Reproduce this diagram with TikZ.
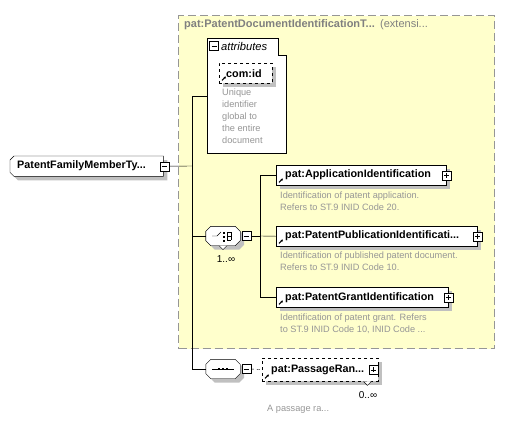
\documentclass[tikz,border=0pt]{standalone}
\usepackage{fontspec}
\setmainfont{Liberation Sans}
\usetikzlibrary{shadows, calc, positioning, arrows.meta}
\definecolor{extyellow}{RGB}{255,255,204}
\definecolor{extborder}{RGB}{150,150,150}
\definecolor{titlegray}{RGB}{128,128,128}
\definecolor{descgray}{RGB}{150,150,150}
\definecolor{shadowgray}{RGB}{192,192,192}
% outline with cut corners round a named node
\newcommand{\cutoutline}[2]{%
  ($(#1.north west)+(#2,0)$) -- ($(#1.north east)+(-#2,0)$)
  -- ($(#1.north east)+(0,#2)$) -- ($(#1.south east)+(0,-#2)$)
  -- ($(#1.south east)+(-#2,0)$) -- ($(#1.south west)+(#2,0)$)
  -- ($(#1.south west)+(0,-#2)$) -- ($(#1.north west)+(0,#2)$) -- cycle}

\begin{document}
\begin{tikzpicture}[x=1pt, y=-1pt,
    shade4/.style={drop shadow={shadow xshift=4pt, shadow yshift=-4pt,
                   fill=shadowgray, opacity=1}},
    elem/.style={draw, fill=white, anchor=north west, minimum height=20pt,
                 inner xsep=9pt, inner ysep=0pt, align=left, shade4,
                 font=\bfseries\fontsize{10.8}{12}\selectfont},
    typebox/.style={anchor=north west, minimum height=20pt, inner sep=0pt},
    compbox/.style={minimum width=34pt, minimum height=19pt, inner sep=0pt},
    descr/.style={anchor=north west, align=left, inner sep=0pt,
                  text=descgray, font=\fontsize{9.2}{12}\selectfont},
    mult/.style={inner sep=0pt, font=\fontsize{10}{11}\selectfont},
    pmbox/.style={draw, fill=white, minimum size=9pt, inner sep=0pt},
    minusbox/.style={pmbox, path picture={
        \draw ([xshift=2pt]path picture bounding box.west)
           -- ([xshift=-2pt]path picture bounding box.east);}},
    plusbox/.style={pmbox, path picture={
        \draw ([xshift=2pt]path picture bounding box.west)
           -- ([xshift=-2pt]path picture bounding box.east);
        \draw ([yshift=-2pt]path picture bounding box.north)
           -- ([yshift=2pt]path picture bounding box.south);}},
    refarrow/.style={-{Latex[length=2.2pt, width=2.6pt]}, line width=1.1pt},
]
\useasboundingbox (0,0) rectangle (505,421);

% extension area
\node[draw=extborder, fill=extyellow, line width=1.1pt,
      dash pattern=on 8pt off 4pt, anchor=north west,
      minimum width=316pt, minimum height=333pt] (ext) at (178,15) {};
\node[anchor=west, inner sep=0pt, text=titlegray,
      font=\bfseries\fontsize{11}{12}\selectfont] (ext-title) at (184,25)
  {pat:PatentDocumentIdentificationT...};
\node[anchor=west, inner sep=0pt, text=titlegray,
      font=\fontsize{11}{12}\selectfont] (ext-kind) at (380,25) {(extensi...};

% attributes
\draw[fill=white] (207,38) -- (278,38) -- (278,55) -- (286,55)
  -- (286,153) -- (207,153) -- cycle;
\coordinate (attr-in) at (207,96);
\node[minusbox] (attr-m) at (214,46) {};
\node[anchor=west, inner sep=0pt, font=\itshape\fontsize{11.2}{12}\selectfont]
  (attr-title) at (221,46) {attributes};
\node[elem, dashed, inner xsep=7pt, text width=39pt] (comid) at (219,63) {com:id};
\draw[refarrow] ($(comid.south west)+(3,-3)$) -- ++(4,-4);
\node[descr] (comid-d) at (222,89)
  {Unique\\identifier\\global to\\the entire\\document};

% complex type
\node[typebox, minimum width=153pt] (fmt) at (10,156) {};
\draw[fill=white, shade4] ($(fmt.north west)+(4,0)$) -- (fmt.north east)
  -- (fmt.south east) -- ($(fmt.south west)+(4,0)$)
  -- ($(fmt.south west)+(0,-4)$) -- ($(fmt.north west)+(0,4)$) -- cycle;
\node[anchor=west, inner sep=0pt, font=\bfseries\fontsize{10.8}{12}\selectfont]
  (fmt-label) at ([xshift=7pt]fmt.west) {PatentFamilyMemberTy...};
\node[minusbox] (fmt-m) at ([xshift=1pt]fmt.east) {};
\coordinate (fork) at (192,166);

% choice
\node[compbox] (choice) at (223,236) {};
\draw[fill=white, shade4, xshift=3pt, yshift=-3pt] \cutoutline{choice}{5};
\draw[fill=white] \cutoutline{choice}{5};
\draw[fill=white] ([xshift=-4pt]choice.south) -- ++(4,4) -- ++(4,-4);
\begin{scope}[shift={(choice)}]
  \draw (-11,0) -- (-6,0) -- (-2,-4);
  \foreach \dy in {-4,0,4}
    \fill (0,\dy) rectangle ++(1.6,1.6);
  \draw (4,-4) -- (4,4);
  \foreach \dy in {-4,0,4}
    \draw (4,\dy) -- (8,\dy);
  \draw (8,-4) -- (8,4);
\end{scope}
\node[minusbox] (choice-m) at ([xshift=6pt]choice.east) {};
\node[mult] (choice-n) at (226,259) {1..∞};
\coordinate (cfork) at (260,236);

% children of choice
\node[elem, text width=152pt] (appid) at (276,165) {pat:ApplicationIdentification};
\node[plusbox] (appid-p) at (appid.east) {};
\draw[refarrow] ($(appid.south west)+(3,-3)$) -- ++(4,-4);
\node[descr] (appid-d) at (280,192)
  {Identification of patent application.\\Refers to ST.9 INID Code 20.};

\node[elem, text width=183pt] (pubid) at (276,226) {pat:PatentPublicationIdentificati...};
\node[plusbox] (pubid-p) at (pubid.east) {};
\draw[refarrow] ($(pubid.south west)+(3,-3)$) -- ++(4,-4);
\node[descr] (pubid-d) at (280,252)
  {Identification of published patent document.\\Refers to ST.9 INID Code 10.};

\node[elem, text width=154pt] (grant) at (276,287) {pat:PatentGrantIdentification};
\node[plusbox] (grant-p) at (grant.east) {};
\draw[refarrow] ($(grant.south west)+(3,-3)$) -- ++(4,-4);
\node[descr] (grant-d) at (280,314)
  {Identification of patent grant. Refers\\to ST.9 INID Code 10, INID Code ...};

% sequence
\node[compbox] (seq) at (223,369) {};
\draw[fill=white, shade4] \cutoutline{seq}{5};
\begin{scope}[shift={(seq)}]
  \draw (-11,0) -- (11,0);
  \foreach \dx in {-4,0,4}
    \fill (\dx-1.2,-1.2) rectangle ++(2.4,2.4);
\end{scope}
\node[minusbox] (seq-m) at ([xshift=6pt]seq.east) {};

\node[elem, dashed, minimum height=23pt, text width=98pt] (passage) at (262,358)
  {pat:PassageRan...};
\node[plusbox] (passage-p) at ([xshift=-5pt]passage.east) {};
\draw[refarrow] ($(passage.south west)+(3,-3)$) -- ++(4,-4);
\draw[fill=white] ($(passage.south east)+(-15,0)$) -- ++(4,4) -- ++(4,-4);
\node[mult] (passage-n) at (368,395) {0..∞};
\node[descr] (passage-d) at (267,405) {A passage ra...};

% connectors
\draw (fmt-m.east) -- (fork);
\draw (attr-in) -| (fork |- seq.west) -- (seq.west);
\draw (fork |- choice.west) -- (choice.west);
\draw (choice-m.east) -- (cfork);
\draw (appid.west) -| (cfork |- grant.west) -- (grant.west);
\draw (cfork) -- (pubid.west);
\draw[dashed] (seq-m.east) -- (passage.west);
\end{tikzpicture}
\end{document}
